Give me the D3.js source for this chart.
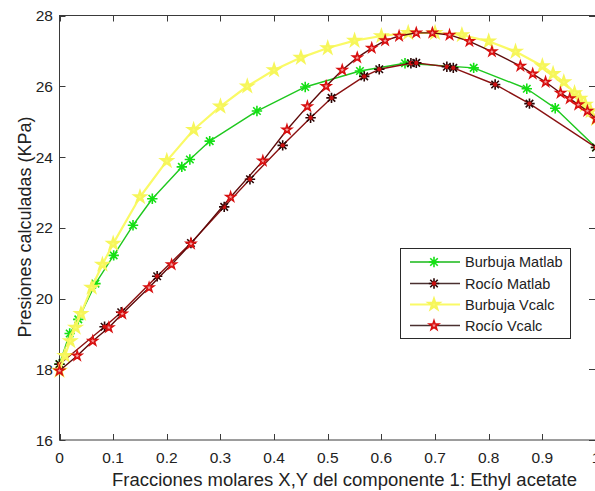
<!DOCTYPE html>
<html>
<head>
<meta charset="utf-8">
<script src="https://cdn.jsdelivr.net/npm/d3@7"></script>
<style>
  html, body { margin: 0; padding: 0; background: #fff; }
  svg { display: block; }
  text { font-family: "Liberation Sans", Arial, sans-serif; fill: #222; }
</style>
</head>
<body>
<svg id="chart" width="595" height="491"></svg>
<script>
// ---------- DATA ----------
const burbujaMatlabX = [0, 0.019, 0.035, 0.067, 0.101, 0.137, 0.173, 0.228, 0.243, 0.28, 0.368, 0.458, 0.56, 0.644, 0.772, 0.871, 0.924, 1.0];
const burbujaMatlabY = [18.15, 19.01, 19.41, 20.42, 21.22, 22.07, 22.82, 23.72, 23.93, 24.45, 25.3, 25.98, 26.43, 26.65, 26.52, 25.93, 25.38, 24.27];

const rocioMatlabX = [0, 0.084, 0.115, 0.182, 0.245, 0.307, 0.355, 0.416, 0.468, 0.507, 0.568, 0.596, 0.655, 0.665, 0.722, 0.734, 0.812, 0.876, 1.0];
const rocioMatlabY = [18.14, 19.2, 19.61, 20.63, 21.57, 22.59, 23.37, 24.33, 25.11, 25.67, 26.28, 26.48, 26.65, 26.66, 26.55, 26.52, 26.05, 25.51, 24.27];

const burbujaVcalcX = [0, 0.01, 0.02, 0.03, 0.04, 0.06, 0.08, 0.1, 0.15, 0.2, 0.25, 0.3, 0.35, 0.4, 0.45, 0.5, 0.55, 0.6, 0.65, 0.7, 0.75, 0.8, 0.85, 0.9, 0.92, 0.94, 0.96, 0.97, 0.98, 0.99, 1.0];
const vcalcY = [17.96, 18.38, 18.8, 19.18, 19.57, 20.31, 20.96, 21.55, 22.87, 23.89, 24.77, 25.43, 26.0, 26.46, 26.81, 27.08, 27.29, 27.42, 27.51, 27.51, 27.45, 27.27, 26.98, 26.57, 26.35, 26.12, 25.81, 25.65, 25.48, 25.3, 25.08];
const rocioVcalcX = [0, 0.033, 0.062, 0.092, 0.117, 0.167, 0.209, 0.245, 0.319, 0.379, 0.424, 0.462, 0.497, 0.527, 0.555, 0.582, 0.607, 0.633, 0.665, 0.695, 0.727, 0.764, 0.806, 0.859, 0.882, 0.906, 0.934, 0.951, 0.967, 0.984, 1.0];

const xTicks = [0, 0.1, 0.2, 0.3, 0.4, 0.5, 0.6, 0.7, 0.8, 0.9, 1];
const xTickLabels = ["0", "0.1", "0.2", "0.3", "0.4", "0.5", "0.6", "0.7", "0.8", "0.9", "1"];
const yTicks = [16, 18, 20, 22, 24, 26, 28];
const seriesNames = ["Burbuja Matlab", "Rocío Matlab", "Burbuja Vcalc", "Rocío Vcalc"];
const xLabel = "Fracciones molares X,Y del componente 1: Ethyl acetate";
const yLabel = "Presiones calculadas (KPa)";

// ---------- LAYOUT ----------
const svg = d3.select("#chart");
const L = 59.5, R = 596, T = 15.5, B = 440;
const x = d3.scaleLinear().domain([0, 1]).range([L, R]);
const y = d3.scaleLinear().domain([16, 28]).range([B, T]);

const zip = (xs, ys) => xs.map((v, i) => [v, ys[i]]);
const series = [
  { name: seriesNames[0], data: zip(burbujaMatlabX, burbujaMatlabY), line: "#1fc81f", lw: 1.4, marker: "ast", mstroke: "#14e014", mfill: null },
  { name: seriesNames[1], data: zip(rocioMatlabX, rocioMatlabY), line: "#8a1212", lw: 1.4, marker: "ast", mstroke: "#2a0505", mfill: "#cc1010" },
  { name: seriesNames[2], data: zip(burbujaVcalcX, vcalcY), line: "#fafa66", lw: 2.2, marker: "hex", mstroke: "#f6f65a", mfill: "#fafa70" },
  { name: seriesNames[3], data: zip(rocioVcalcX, vcalcY), line: "#5e0a0a", lw: 1.4, marker: "star", mstroke: "#d81010", mfill: "#f4a0a0" }
];

// axes (box)
const axG = svg.append("g");
axG.append("rect").attr("x", L).attr("y", T).attr("width", R - L).attr("height", B - T)
  .attr("fill", "none").attr("stroke", "#3a3a3a").attr("stroke-width", 1);

const tl = 6;
xTicks.forEach((t, i) => {
  const px = Math.round(x(t)) + 0.5;
  axG.append("line").attr("x1", px).attr("x2", px).attr("y1", B).attr("y2", B - tl).attr("stroke", "#3a3a3a");
  axG.append("line").attr("x1", px).attr("x2", px).attr("y1", T).attr("y2", T + tl).attr("stroke", "#3a3a3a");
  axG.append("text").attr("x", x(t)).attr("y", 463).attr("text-anchor", "middle")
    .attr("font-size", 15.5).text(xTickLabels[i]);
});
yTicks.forEach(t => {
  const py = Math.round(y(t)) + 0.5;
  axG.append("line").attr("x1", L).attr("x2", L + tl).attr("y1", py).attr("y2", py).attr("stroke", "#3a3a3a");
  axG.append("line").attr("x1", R - 1).attr("x2", R - 1 - tl).attr("y1", py).attr("y2", py).attr("stroke", "#3a3a3a");
  axG.append("text").attr("x", 53).attr("y", y(t) + 5.5).attr("text-anchor", "end")
    .attr("font-size", 15.5).text(t);
});

svg.append("text").attr("x", 112).attr("y", 486).attr("font-size", 17.5)
  .attr("textLength", 465).attr("lengthAdjust", "spacingAndGlyphs").text(xLabel);
svg.append("text").attr("transform", "translate(31,227) rotate(-90)")
  .attr("text-anchor", "middle").attr("font-size", 18).text(yLabel);

// markers
function drawMarker(g, s, cx, cy) {
  if (s.marker === "ast") {
    const r = 5.2, d = r * 0.72;
    const p = `M${cx - r},${cy}L${cx + r},${cy}M${cx},${cy - r}L${cx},${cy + r}` +
      `M${cx - d},${cy - d}L${cx + d},${cy + d}M${cx - d},${cy + d}L${cx + d},${cy - d}`;
    g.append("path").attr("d", p).attr("stroke", s.mstroke).attr("stroke-width", 1.6).attr("fill", "none");
    if (s.mfill) g.append("circle").attr("cx", cx).attr("cy", cy).attr("r", 2.2).attr("fill", s.mfill);
  } else if (s.marker === "star") {
    g.append("path").attr("d", d3.symbol(d3.symbolStar, 26)())
      .attr("transform", `translate(${cx},${cy})`)
      .attr("fill", s.mfill).attr("stroke", s.mstroke).attr("stroke-width", 1.6);
  } else {
    g.append("path").attr("d", d3.symbol(d3.symbolStar, 34)())
      .attr("transform", `translate(${cx},${cy})`)
      .attr("fill", s.mfill).attr("stroke", s.mstroke).attr("stroke-width", 2.2);
  }
}

const clip = svg.append("defs").append("clipPath").attr("id", "plotclip");
clip.append("rect").attr("x", L - 8).attr("y", T - 8).attr("width", R - L + 16).attr("height", B - T + 16);
const plot = svg.append("g").attr("clip-path", "url(#plotclip)");
const lineGen = d3.line().x(d => x(d[0])).y(d => y(d[1]));
series.forEach(s => {
  const g = plot.append("g");
  g.append("path").datum(s.data).attr("d", lineGen).attr("fill", "none")
    .attr("stroke", s.line).attr("stroke-width", s.lw).attr("stroke-linejoin", "round");
  s.data.forEach(d => drawMarker(g, s, x(d[0]), y(d[1])));
});

// legend
const lg = svg.append("g");
lg.append("rect").attr("x", 400.5).attr("y", 248.5).attr("width", 170).attr("height", 90)
  .attr("fill", "#fff").attr("stroke", "#2a2a2a").attr("stroke-width", 1);
const rowsY = [262, 283.5, 304.5, 325.5];
const legendLine = ["#17b817", "#4a3030", "#fafa66", "#4a3030"];
series.forEach((s, i) => {
  const ry = rowsY[i];
  lg.append("line").attr("x1", 410).attr("x2", 460).attr("y1", ry).attr("y2", ry)
    .attr("stroke", legendLine[i]).attr("stroke-width", s.lw);
  drawMarker(lg, s, 434, ry);
  lg.append("text").attr("x", 465).attr("y", ry + 5).attr("font-size", 14.5).text(s.name);
});
</script>
</body>
</html>
